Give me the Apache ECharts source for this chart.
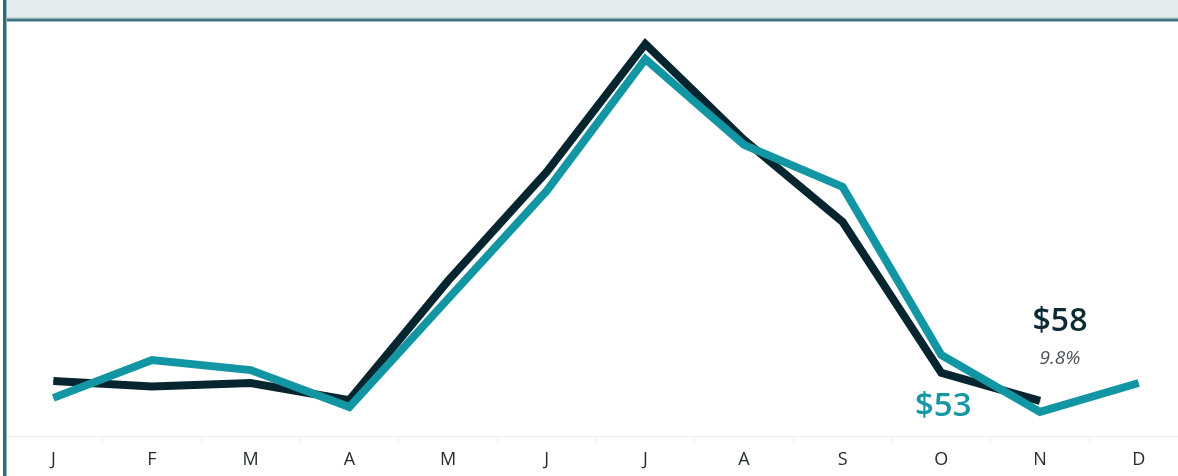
<!DOCTYPE html>
<html>
<head>
<meta charset="utf-8">
<script src="https://cdn.jsdelivr.net/npm/echarts@6/dist/echarts.min.js"></script>
<style>
html,body{margin:0;padding:0;background:#fff;overflow:hidden;width:1178px;height:476px;}
#c{width:1190px;height:476px;}
</style>
</head>
<body>
<div id="c"></div>
<script>
var months = ['J','F','M','A','M','J','J','A','S','O','N','D'];
var priorYear = [67.1, 64.6, 66.2, 58.4, 112.8, 162.5, 221, 177.2, 139.7, 70.8, 58, null];
var currentYear = [59.4, 76.7, 72.1, 55.2, 104.6, 153.9, 214.1, 174.9, 155.7, 79, 53, 66.2];
var changeText = '9.8%';
var labelIndex = 10;

var chart = echarts.init(document.getElementById('c'), null, {renderer:'canvas'});
var font = '"Open Sans", "Noto Sans", sans-serif';

var darkData = priorYear.map(function(v,i){
  if(i===labelIndex){
    return {value:v, label:{show:true, position:'top', distance:30, offset:[20,0],
      formatter:function(p){return '{a|$'+Math.round(p.value)+'}\n{b|'+changeText+'}';},
      rich:{
        a:{fontFamily:font, fontSize:32, fontWeight:600, color:'#0b2a35', lineHeight:50, align:'center'},
        b:{fontFamily:font, fontSize:19, fontStyle:'italic', color:'#4a5258', lineHeight:24, align:'center'}
      }}};
  }
  return v;
});
var tealData = currentYear.map(function(v,i){
  if(i===labelIndex){
    return {value:v, label:{show:true, position:'left', distance:68, offset:[0,-5],
      formatter:function(p){return '$'+Math.round(p.value);},
      fontFamily:font, fontSize:33, fontWeight:600, color:'#1797a5'}};
  }
  return v;
});

chart.setOption({
  animation:false,
  backgroundColor:'#ffffff',
  graphic:[
    {type:'rect', shape:{x:7,y:0,width:1190,height:18}, style:{fill:'#e4ecee'}, silent:true, z:10},
    {type:'rect', shape:{x:7,y:17,width:1190,height:1.5}, style:{fill:'#c9d8dc'}, silent:true, z:10},
    {type:'rect', shape:{x:7,y:18.5,width:1190,height:3}, style:{fill:'#3f7884'}, silent:true, z:10},
    {type:'rect', shape:{x:3,y:0,width:3.5,height:476}, style:{fill:'#2f6b78'}, silent:true, z:10},
    {type:'rect', shape:{x:0,y:0,width:3,height:476}, style:{fill:'#ffffff'}, silent:true, z:10}
  ],
  grid:{left:4, right:2, top:22, bottom:40},
  xAxis:{
    type:'category', data:months, boundaryGap:true,
    axisLine:{show:true, lineStyle:{color:'#ececec', width:1}},
    axisTick:{show:true, length:7, lineStyle:{color:'#ececec'}},
    axisLabel:{color:'#262d33', fontSize:18, fontFamily:font, margin:15}
  },
  yAxis:{type:'value', min:42, max:231, show:false, splitLine:{show:false}},
  series:[
    {type:'line', data:darkData, symbol:'circle', symbolSize:1, showSymbol:true, connectNulls:false,
     itemStyle:{color:'#06252f'},
     lineStyle:{color:'#06252f', width:8, join:'miter', cap:'butt'}, z:2},
    {type:'line', data:tealData, symbol:'circle', symbolSize:1, showSymbol:true,
     itemStyle:{color:'#1396a4'},
     lineStyle:{color:'#1396a4', width:8, join:'miter', cap:'butt'}, z:3}
  ]
});
</script>
</body>
</html>
